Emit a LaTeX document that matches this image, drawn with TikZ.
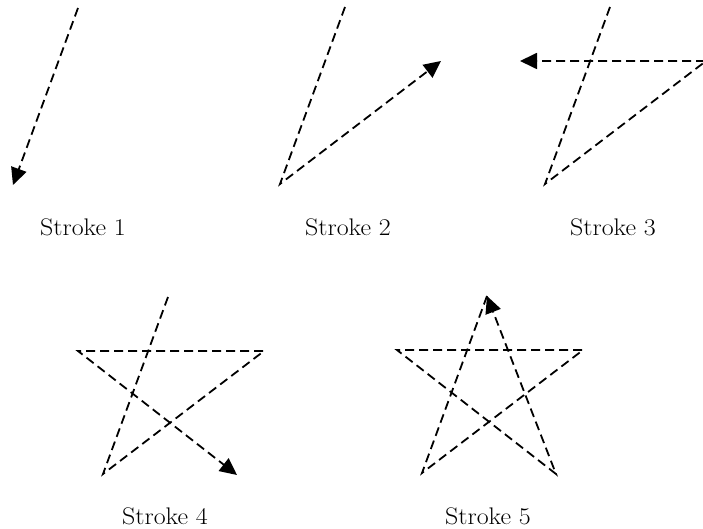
\documentclass[tikz,border=0pt]{standalone}
\usepackage{graphicx}
\usetikzlibrary{arrows.meta}
\tikzset{
  pen/.style={line width=1.8pt, dash pattern=on 9pt off 5pt, line join=miter},
  penarrow/.style={pen, -{Triangle[length=17pt,width=16pt]}},
  caption/.style={anchor=base, font=\fontsize{24}{28}\selectfont, inner sep=0pt}
}
% the five points of a pentagram, given its top point
\newcommand\pentapoints[3]{%
  \coordinate (#1T)  at (#2,#3);
  \coordinate (#1BL) at ({#2-65},{#3+177});
  \coordinate (#1R)  at ({#2+96},{#3+54});
  \coordinate (#1L)  at ({#2-90},{#3+54});
  \coordinate (#1BR) at ({#2+69},{#3+178});
}
% slightly widened caption lettering
\newcommand\widecap[1]{\scalebox{1.08}[1]{#1}}
\begin{document}
\begin{tikzpicture}[x=1pt,y=-1pt]
  \useasboundingbox (0,0) rectangle (703,529);

  \pentapoints{a}{78}{8}
  \pentapoints{b}{345}{7}
  \pentapoints{c}{610}{7}
  \pentapoints{d}{168}{297}
  \pentapoints{e}{487}{296}

  % stroke 1
  \draw[penarrow] (aT) -- (aBL);
  % stroke 2
  \draw[penarrow] (bT) -- (bBL) -- (bR);
  % stroke 3
  \draw[penarrow] (cT) -- (cBL) -- (cR) -- (cL);
  % stroke 4
  \draw[penarrow] (dT) -- (dBL) -- (dR) -- (dL) -- (dBR);
  % stroke 5
  \draw[penarrow] (eT) -- (eBL) -- (eR) -- (eL) -- (eBR) -- (eT);

  \node[caption] (cap1) at (83,235) {\widecap{Stroke 1}};
  \node[caption] (cap2) at (348,235) {\widecap{Stroke 2}};
  \node[caption] (cap3) at (613,235) {\widecap{Stroke 3}};
  \node[caption] (cap4) at (165,524) {\widecap{Stroke 4}};
  \node[caption] (cap5) at (488,524) {\widecap{Stroke 5}};
\end{tikzpicture}
\end{document}
